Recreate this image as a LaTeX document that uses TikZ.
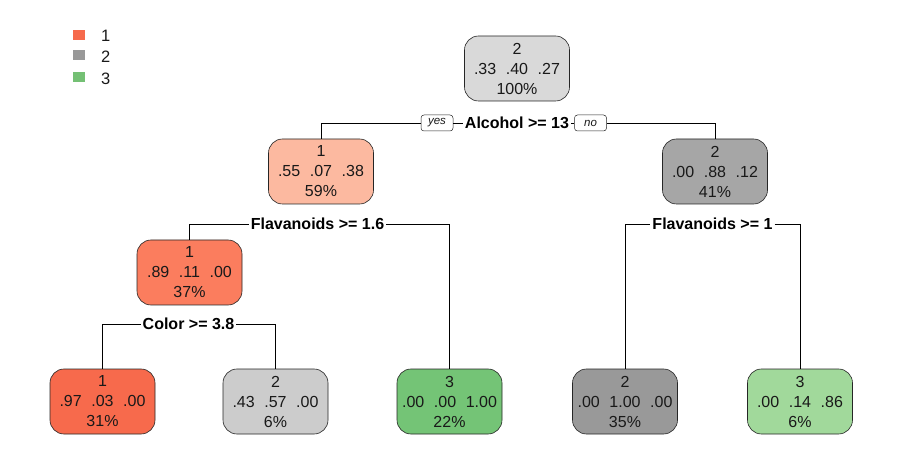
\documentclass[tikz,border=0pt]{standalone}
\usepackage{fontspec}
\setmainfont{Liberation Sans}
\definecolor{cR1}{RGB}{252,185,160}
\definecolor{cR2}{RGB}{251,125,94}
\definecolor{cR3}{RGB}{247,106,76}
\definecolor{cG0}{RGB}{217,217,217}
\definecolor{cG1}{RGB}{166,166,166}
\definecolor{cG2}{RGB}{204,204,204}
\definecolor{cG3}{RGB}{153,153,153}
\definecolor{cN1}{RGB}{116,196,118}
\definecolor{cN2}{RGB}{161,217,155}
\definecolor{legR}{RGB}{246,106,76}
\definecolor{legN}{RGB}{116,192,116}
\definecolor{txt}{RGB}{25,25,25}
\newcommand{\gp}{\hspace{0.6em}}
\begin{document}
\begin{tikzpicture}[x=1pt,y=-1pt,
  tnode/.style={draw=black!85, line width=0.6pt, rounded corners=14pt, minimum width=105pt, minimum height=65pt,
    inner sep=0pt, align=center, text=txt, font=\fontsize{16}{20}\selectfont},
  splitlab/.style={font=\bfseries\fontsize{16}{18}\selectfont, inner sep=2pt, text=black},
  yn/.style={draw=black!85, line width=0.5pt, rounded corners=3pt, font=\itshape\fontsize{11.5}{13}\selectfont,
    minimum width=32pt, minimum height=16pt, inner sep=1pt, text=txt},
  edge/.style={draw=black, line width=0.6pt},
  legsq/.style={minimum width=12pt, minimum height=10pt, inner sep=0pt},
  legtxt/.style={font=\fontsize{16.5}{18}\selectfont, inner sep=0pt, text=txt}]
\useasboundingbox (0,0) rectangle (903,473);
\fill[white] (0,0) rectangle (903,473);
% legend
\node[legsq, fill=legR] (l1) at (79,35) {};
\node[legsq, fill=cG3] (l2) at (79,55.5) {};
\node[legsq, fill=legN] (l3) at (79,77.5) {};
\node[legtxt, anchor=west] (t1) at (101,36) {1};
\node[legtxt, anchor=west] (t2) at (101,57) {2};
\node[legtxt, anchor=west] (t3) at (101,78.5) {3};
% nodes
\node[tnode, fill=cG0] (root) at (517,68.5) {2\\.33\gp.40\gp.27\\100\%};
\node[tnode, fill=cR1] (n2) at (321,171.5) {1\\.55\gp.07\gp.38\\59\%};
\node[tnode, fill=cG1] (n3) at (715,171.5) {2\\.00\gp.88\gp.12\\41\%};
\node[tnode, fill=cR2] (n4) at (189.5,272.5) {1\\.89\gp.11\gp.00\\37\%};
\node[tnode, fill=cR3] (n8) at (102.5,401.5) {1\\.97\gp.03\gp.00\\31\%};
\node[tnode, fill=cG2] (n9) at (275.5,401.5) {2\\.43\gp.57\gp.00\\6\%};
\node[tnode, fill=cN1] (n5) at (449.5,401.5) {3\\.00\gp.00\gp1.00\\22\%};
\node[tnode, fill=cG3] (n6) at (625,401.5) {2\\.00\gp1.00\gp.00\\35\%};
\node[tnode, fill=cN2] (n7) at (800,401.5) {3\\.00\gp.14\gp.86\\6\%};
% split labels
\node[splitlab] (s1) at (517,123) {Alcohol >= 13};
\node[yn] (yes) at (437,123) {yes};
\node[yn] (no) at (590.5,123) {no};
\node[splitlab] (s2) at (317.5,224) {Flavanoids >= 1.6};
\node[splitlab] (s3) at (712.5,224) {Flavanoids >= 1};
\node[splitlab] (s4) at (188.5,324) {Color >= 3.8};
% connectors
\draw[edge] (n2.north) |- (yes.west);
\draw[edge] (yes.east) -- (s1.west);
\draw[edge] (s1.east) -- (no.west);
\draw[edge] (no.east) -| (n3.north);
\draw[edge] (n4.north) |- (s2.west);
\draw[edge] (s2.east) -| (n5.north);
\draw[edge] (n6.north) |- (s3.west);
\draw[edge] (s3.east) -| (n7.north);
\draw[edge] (n8.north) |- (s4.west);
\draw[edge] (s4.east) -| (n9.north);
\end{tikzpicture}
\end{document}
